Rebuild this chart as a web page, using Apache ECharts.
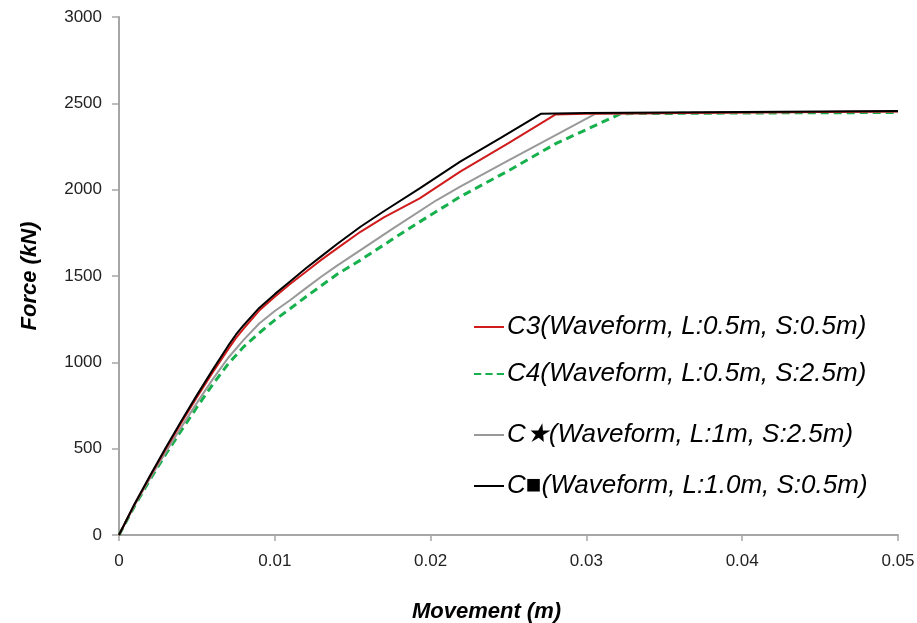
<!DOCTYPE html>
<html>
<head>
<meta charset="utf-8">
<script src="https://cdn.jsdelivr.net/npm/echarts@6/dist/echarts.min.js"></script>
<style>
  html, body { margin: 0; padding: 0; background: #fff; }
  #chart { width: 917px; height: 623px; }
</style>
</head>
<body>
<div id="chart"></div>
<script>
// 读图得到的数据 (movement m, force kN)
var c3Data = [[0,0],[0.001,178],[0.002,340],[0.003,498],[0.004,650],[0.005,798],[0.006,940],[0.007,1075],[0.0075,1140],[0.008,1195],[0.009,1300],[0.010,1380],[0.011,1455],[0.012,1525],[0.013,1595],[0.014,1660],[0.0155,1756],[0.017,1840],[0.0193,1950],[0.0219,2104],[0.025,2270],[0.028,2435],[0.03,2440],[0.04,2447],[0.05,2452]];
var c4Data = [[0,0],[0.001,168],[0.002,322],[0.003,468],[0.004,605],[0.005,740],[0.006,870],[0.007,990],[0.008,1090],[0.009,1170],[0.010,1245],[0.011,1312],[0.012,1380],[0.013,1445],[0.014,1510],[0.0155,1592],[0.0175,1710],[0.0195,1825],[0.0219,1959],[0.025,2110],[0.028,2265],[0.0322,2440],[0.04,2444],[0.05,2447]];
var cStarData = [[0,0],[0.001,172],[0.002,330],[0.003,480],[0.004,625],[0.005,765],[0.006,900],[0.007,1025],[0.008,1130],[0.009,1225],[0.010,1297],[0.011,1361],[0.012,1430],[0.013,1497],[0.014,1560],[0.0155,1650],[0.0175,1770],[0.0204,1940],[0.0219,2017],[0.025,2170],[0.028,2315],[0.0306,2440],[0.04,2447],[0.05,2452]];
var cSquareData = [[0,0],[0.001,180],[0.002,345],[0.003,505],[0.004,660],[0.005,810],[0.006,955],[0.007,1095],[0.0075,1160],[0.008,1215],[0.009,1315],[0.010,1395],[0.011,1470],[0.012,1545],[0.013,1615],[0.014,1685],[0.0155,1785],[0.017,1875],[0.0193,2007],[0.0219,2162],[0.0245,2300],[0.0271,2440],[0.03,2444],[0.04,2450],[0.05,2455]];

var seriesNames = [
  'C3(Waveform, L:0.5m, S:0.5m)',
  'C4(Waveform, L:0.5m, S:2.5m)',
  'C\u2605(Waveform, L:1m, S:2.5m)',
  'C\u25A0(Waveform, L:1.0m, S:0.5m)'
];
var legendTops = [309, 356, 417, 468];

var chart = echarts.init(document.getElementById('chart'), null, { renderer: 'canvas' });

var font = 'Arial, "Liberation Sans", sans-serif';
var solidIcon = 'path://M0,0H30V2H0Z';
var dashIcon = 'path://M0,0H7V2H0Z M11,0H18V2H11Z M22,0H29V2H22Z';

function makeLegend(i) {
  return {
    data: [{ name: seriesNames[i], icon: i === 1 ? dashIcon : solidIcon }],
    left: 469,
    top: legendTops[i],
    itemWidth: 30,
    itemHeight: i === 1 ? 3 : 2,
    itemGap: 4,
    textStyle: { fontFamily: font, fontStyle: 'italic', fontSize: 26, color: '#000', padding: [0, 0, 0, -2] },
    selectedMode: false
  };
}

var option = {
  animation: false,
  backgroundColor: '#fff',
  grid: { left: 119, right: 19, top: 17, bottom: 88, containLabel: false, outerBoundsMode: 'none' },
  legend: [makeLegend(0), makeLegend(1), makeLegend(2), makeLegend(3)],
  xAxis: {
    type: 'value',
    min: 0,
    max: 0.05,
    interval: 0.01,
    name: 'Movement (m)',
    nameLocation: 'middle',
    nameGap: 66,
    nameTextStyle: { fontFamily: font, fontStyle: 'italic', fontWeight: 'bold', fontSize: 22, color: '#000', padding: [0, 44, 0, 0] },
    axisLine: { lineStyle: { color: '#a6a6a6', width: 2 } },
    axisTick: { show: true, length: 6, lineStyle: { color: '#a6a6a6', width: 1.5 } },
    axisLabel: { fontFamily: font, fontSize: 17, color: '#222', margin: 18 },
    splitLine: { show: false }
  },
  yAxis: {
    type: 'value',
    min: 0,
    max: 3000,
    interval: 500,
    name: 'Force (kN)',
    nameLocation: 'middle',
    nameGap: 78,
    nameTextStyle: { fontFamily: font, fontStyle: 'italic', fontWeight: 'bold', fontSize: 22, color: '#000' },
    axisLine: { show: true, lineStyle: { color: '#a6a6a6', width: 2 } },
    axisTick: { show: true, length: 7, lineStyle: { color: '#a6a6a6', width: 1.5 } },
    axisLabel: { fontFamily: font, fontSize: 17, color: '#222', margin: 17, formatter: function (v) { return String(v); } },
    splitLine: { show: false }
  },
  series: [
    { name: seriesNames[0], type: 'line', data: c3Data, symbol: 'none', lineStyle: { color: '#d01c1c', width: 2 }, itemStyle: { color: '#d01c1c' }, z: 3 },
    { name: seriesNames[1], type: 'line', data: c4Data, symbol: 'none', lineStyle: { color: '#16b04c', width: 3, type: [8, 5] }, itemStyle: { color: '#16b04c' }, z: 2 },
    { name: seriesNames[2], type: 'line', data: cStarData, symbol: 'none', lineStyle: { color: '#999999', width: 2 }, itemStyle: { color: '#999999' }, z: 2 },
    { name: seriesNames[3], type: 'line', data: cSquareData, symbol: 'none', lineStyle: { color: '#000', width: 2 }, itemStyle: { color: '#000' }, z: 4 }
  ]
};

chart.setOption(option);
</script>
</body>
</html>
